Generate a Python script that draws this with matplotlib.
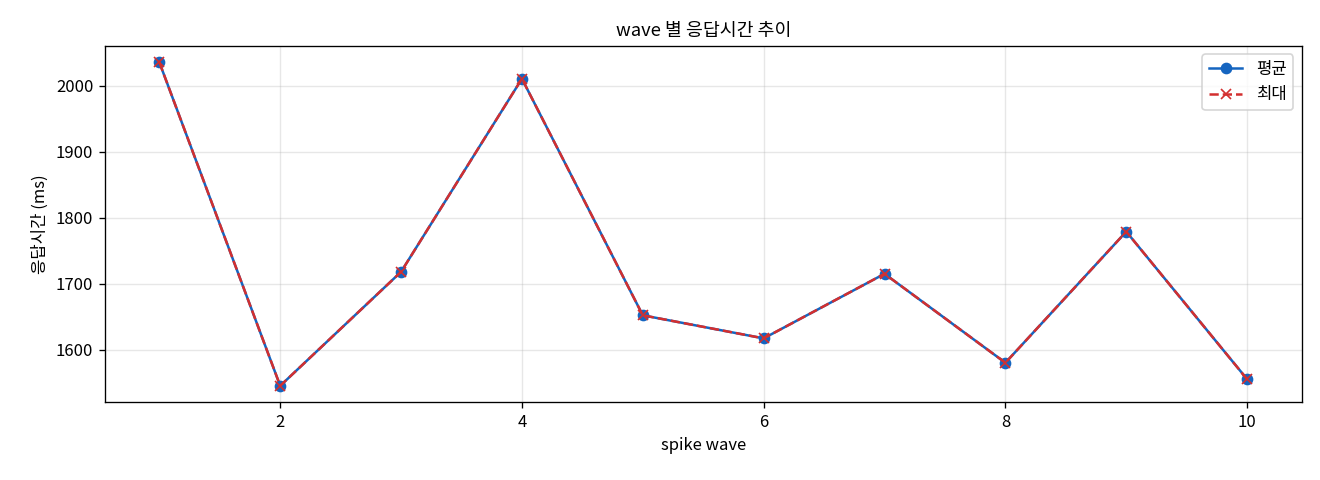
import matplotlib
matplotlib.use("Agg")
import matplotlib.pyplot as plt

plt.rcParams['font.family'] = ['Noto Sans CJK KR', 'DejaVu Sans']

waves = [1, 2, 3, 4, 5, 6, 7, 8, 9, 10]
avg_ms = [2036, 1545, 1718, 2011, 1652, 1617, 1715, 1580, 1779, 1555]
max_ms = [2036, 1545, 1718, 2011, 1652, 1617, 1715, 1580, 1779, 1555]

fig, ax = plt.subplots(figsize=(11, 4), dpi=120)
ax.plot(waves, avg_ms, marker="o", color="#1565C0", linewidth=1.5, markersize=6, label="평균")
ax.plot(waves, max_ms, marker="x", linestyle="--", color="#D32F2F", linewidth=1.5, markersize=6, label="최대")

ax.set_title("wave 별 응답시간 추이", fontsize=11)
ax.set_xlabel("spike wave", fontsize=10)
ax.set_ylabel("응답시간 (ms)", fontsize=10)
ax.grid(True, alpha=0.3)
ax.legend(loc="upper right")

fig.subplots_adjust(left=0.0795, right=0.986, top=0.904, bottom=0.1625)
plt.savefig("out.png", dpi=120)
